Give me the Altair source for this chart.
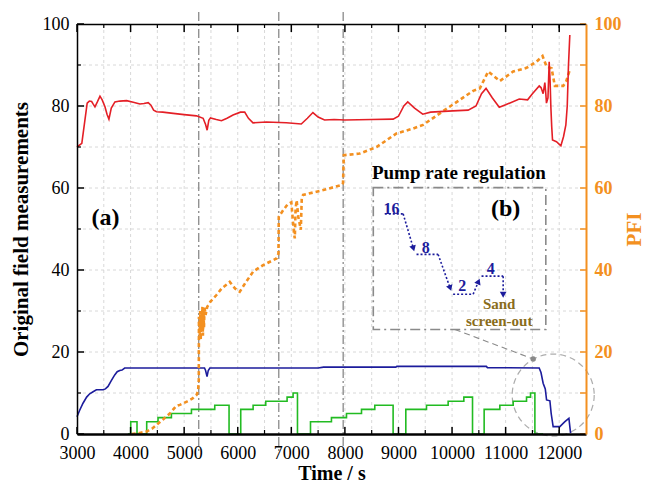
import math
import altair as alt
import pandas as pd

W, H = 509, 410
XD = [3000, 12500]
YD = [0, 100]
FONT = "Liberation Serif"
RED = "#e41f26"
BLUE = "#1c1c9c"
GREEN = "#22bb22"
ORANGE = "#f39020"
GRAY = "#8a8a8a"
OLIVE = "#8a6d1c"

# ---- data series ----
red_t = [3000, 3090, 3190, 3230, 3273, 3300, 3335, 3380, 3429, 3470, 3522, 3560, 3596, 3640, 3708, 3800,
         3925, 4050, 4174, 4250, 4329, 4380, 4430, 4484, 4600, 4795, 5000, 5230, 5354, 5400, 5429, 5460,
         5491, 5600, 5696, 5800, 5912, 6050, 6130, 6200, 6285, 6534, 6907, 7186, 7300, 7403, 7500, 7621,
         7800, 8000, 8500, 8900, 9000, 9100, 9173, 9300, 9453, 9600, 10012, 10300, 10447, 10550, 10634,
         10750, 10881, 11000, 11254, 11410, 11500, 11627, 11660, 11677, 11700, 11732, 11750, 11762, 11790,
         11813, 11830, 11844, 11860, 11875, 11949, 12031, 12080, 12124, 12150, 12172, 12198]
red_v = [70.0, 70.9, 80.7, 81.2, 81.1, 80.5, 79.8, 81.0, 82.4, 81.5, 79.8, 78.0, 76.8, 79.5, 81.0, 81.2,
         81.3, 80.9, 80.5, 80.6, 80.8, 80.2, 79.0, 78.6, 78.5, 78.2, 77.9, 77.6, 77.0, 75.5, 74.1, 76.5,
         77.1, 76.7, 76.4, 77.0, 77.8, 78.5, 78.5, 77.0, 75.9, 76.1, 75.9, 75.6, 77.0, 78.4, 77.3, 76.6,
         76.7, 76.6, 76.7, 76.8, 77.5, 80.0, 81.0, 79.5, 78.0, 78.5, 78.8, 79.0, 80.0, 83.0, 84.3,
         82.0, 79.7, 80.3, 81.7, 81.5, 83.0, 84.9, 84.5, 83.9, 83.0, 85.7, 83.0, 80.7, 82.0,
         90.8, 86.0, 79.8, 75.0, 71.7, 71.3, 70.3, 72.5, 75.4, 80.0, 89.6, 97.3]

blue_t = [3000, 3050, 3112, 3180, 3237, 3300, 3362, 3486, 3530, 3579, 3640, 3704, 3750, 3797, 3840, 3890,
          5380, 5400, 5427, 5450, 5480, 7500, 7600, 8950, 8970, 10640, 10660, 11626, 11660, 11700, 11740,
          11764, 11826, 11850, 11887, 12012, 12106, 12181, 12212]
blue_v = [4.2, 5.8, 7.5, 9.0, 9.8, 10.3, 10.8, 10.8, 11.0, 11.6, 13.0, 14.4, 15.2, 15.5, 15.6, 16.1,
          16.1, 15.5, 14.0, 15.5, 16.1, 16.1, 16.3, 16.3, 16.5, 16.5, 16.2, 16.1, 15.0, 12.4, 11.0,
          8.3, 8.1, 5.0, 1.8, 1.8, 3.0, 3.8, 0.2]

pfi_t = [4021, 4150, 4301, 4400, 4484, 4600, 4733, 4850, 4920, 5050, 5150, 5231, 5260, 5273, 5276,
         5290, 5300, 5310, 5320, 5330, 5340, 5350, 5360, 5370, 5380, 5400, 5430, 5491, 5603, 5700, 5851,
         5950, 6038, 6150, 6287, 6474, 6723, 6760, 6766, 6849, 6930, 7000, 7030, 7050, 7065, 7080, 7100,
         7130, 7160, 7177, 7195, 7220, 7531, 7936, 7965, 7980, 8278, 8590, 8963, 9273, 9460, 9772, 10145,
         10394, 10519, 10674, 10892, 11141, 11390, 11577, 11689, 11764, 11857, 11919, 12074, 12130, 12190]
pfi_v = [0.0, 0.2, 0.6, 1.3, 2.2, 3.5, 5.0, 6.8, 7.1, 7.9, 8.6, 9.5, 10.5, 13.2, 28.6,
         24.0, 30.0, 23.0, 29.0, 25.0, 31.0, 24.0, 30.0, 26.0, 31.0, 29.0, 31.0, 32.3, 33.9, 35.5, 37.1,
         35.5, 34.7, 37.0, 39.6, 41.2, 42.8, 44.0, 53.0, 54.6, 56.0, 56.5, 52.0, 49.0, 47.7, 55.0, 57.0,
         53.0, 51.0, 49.8, 57.5, 58.3, 59.3, 60.7, 61.2, 68.0, 68.4, 70.0, 73.3, 74.5, 75.4, 78.2, 81.5,
         83.7, 84.3, 88.4, 86.1, 88.4, 89.3, 90.8, 92.2, 89.6, 89.2, 84.9, 84.9, 86.0, 88.5]

green_t = [3950, 4003, 4120, 4301, 4512, 4762, 5136, 5571, 5838, 6056, 6287, 6523, 6921, 7033, 7115,
           7358, 7749, 8030, 8310, 8558, 8900, 9137, 9523, 9927, 10220, 10382, 10599, 10892, 11141,
           11390, 11465, 11546, 11700]
green_v = [0, 3, 0, 3, 4, 5, 6, 7, 0, 6, 7, 8, 9, 10, 0,
           3, 4, 5, 6, 7, 0, 6, 7, 8, 9, 0, 6, 7, 8,
           9, 10, 0, 0]

# ---- axes / reference values ----
x_labels = [3000, 4000, 5000, 6000, 7000, 8000, 9000, 10000, 11000, 12000]
x_minor = [3500, 4500, 5500, 6500, 7500, 8500, 9500, 10500, 11500, 12000]
x_grid = [3500, 4000, 4500, 5000, 5500, 6000, 6500, 7000, 7500, 8000, 8500, 9000, 9500,
          10000, 10500, 11000, 11500, 12000]
y_labels = [0, 20, 40, 60, 80, 100]
y_minor = [10, 30, 50, 70, 90]
y_grid = [10, 20, 30, 40, 50, 60, 70, 80, 90]
v_lines = [5272, 6766, 7968]

# ---- inset (b) ----
inset_box = dict(t1=8530, t2=11750, v1=25.5, v2=60.1)
seg_t1 = [8745, 9087, 9337, 9740, 10020, 10394, 10550, 10954]
seg_v1 = [53.7, 53.7, 43.8, 43.8, 34.1, 34.1, 38.5, 38.5]
seg_t2 = [9087, 9273, 9740, 9959, 10394, 10487, 10954, 10954]
seg_v2 = [53.7, 45.5, 43.8, 35.8, 34.1, 37.0, 38.5, 34.2]
arrow_seg = [1, 3, 5, 7]
rate_text = ["16", "8", "2", "4"]
rate_t = [8870, 9511, 10188, 10724]
rate_v = [54.8, 45.3, 36.1, 40.2]
sand_text = ["Sand", "screen-out"]
sand_t = [10880, 10880]
sand_v = [31.6, 27.6]
circle_t, circle_v = 11888, 9.5
dot_t, dot_v = 11514, 18.3
conn_t = [10052, 11514]
conn_v = [25.5, 18.3]

xs = alt.Scale(domain=XD, nice=False, zero=False)
ys = alt.Scale(domain=YD, nice=False, zero=False)


def X(f="t", axis=None):
    return alt.X(f"{f}:Q", scale=xs, axis=axis)


def Y(f="v", axis=None):
    return alt.Y(f"{f}:Q", scale=ys, axis=axis)


layers = []

# grid
gx = alt.Chart(pd.DataFrame({"t": x_grid})).mark_rule(color="#d4d4d4", strokeDash=[3, 3], strokeWidth=0.9).encode(
    x=X(), y=alt.value(0), y2=alt.value(H))
gy = alt.Chart(pd.DataFrame({"v": y_grid})).mark_rule(color="#d4d4d4", strokeDash=[3, 3], strokeWidth=0.9).encode(
    y=Y(), x=alt.value(0), x2=alt.value(W))
layers += [gx, gy]

# vertical dash-dot lines
vl = alt.Chart(pd.DataFrame({"t": v_lines})).mark_rule(color=GRAY, strokeDash=[9, 3, 2, 3], strokeWidth=1.3).encode(
    x=X(), y=alt.value(-12), y2=alt.value(H + 17))
layers.append(vl)

# inset box
box = alt.Chart(pd.DataFrame([inset_box])).mark_rect(fillOpacity=0, stroke=GRAY, strokeWidth=1.6,
                                                      strokeDash=[10, 4, 2, 4]).encode(
    x=X("t1"), x2="t2", y=Y("v1"), y2="v2")
layers.append(box)

conn = alt.Chart(pd.DataFrame({"t": [conn_t[0]], "t2": [conn_t[1]], "v": [conn_v[0]], "v2": [conn_v[1]]})).mark_rule(
    color=GRAY, strokeDash=[6, 4], strokeWidth=1.1).encode(x=X(), x2="t2", y=Y(), y2="v2")
circ = alt.Chart(pd.DataFrame({"t": [circle_t], "v": [circle_v]})).mark_point(
    shape="circle", filled=False, size=6724, color=GRAY, strokeDash=[6, 4], strokeWidth=1.2).encode(x=X(), y=Y())
dot = alt.Chart(pd.DataFrame({"t": [dot_t], "v": [dot_v]})).mark_point(
    shape="circle", filled=True, size=30, color=GRAY, opacity=1).encode(x=X(), y=Y())
layers += [conn, circ, dot]

# inset arrows
segs = pd.DataFrame({"t": seg_t1, "v": seg_v1, "t2": seg_t2, "v2": seg_v2})
seg_l = alt.Chart(segs).mark_rule(color=BLUE, strokeDash=[2, 2], strokeWidth=1.6).encode(
    x=X(), x2="t2", y=Y(), y2="v2")
ppt = W / (XD[1] - XD[0])
ppv = H / (YD[1] - YD[0])
heads = []
for i in arrow_seg:
    dx = (seg_t2[i] - seg_t1[i]) * ppt
    dv = (seg_v2[i] - seg_v1[i]) * ppv
    ang = math.degrees(math.atan2(dx, dv)) % 360
    heads.append({"t": seg_t2[i], "v": seg_v2[i], "a": ang})
head_l = alt.Chart(pd.DataFrame(heads)).mark_point(shape="triangle", filled=True, size=45, color=BLUE,
                                                    opacity=1).encode(
    x=X(), y=Y(), angle=alt.Angle("a:Q", scale=None))
rate_l = alt.Chart(pd.DataFrame({"t": rate_t, "v": rate_v, "s": rate_text})).mark_text(
    font=FONT, fontSize=16, fontWeight="bold", color=BLUE).encode(x=X(), y=Y(), text="s:N")
sand_l = alt.Chart(pd.DataFrame({"t": sand_t, "v": sand_v, "s": sand_text})).mark_text(
    font=FONT, fontSize=15, fontWeight="bold", color=OLIVE).encode(x=X(), y=Y(), text="s:N")
layers += [seg_l, head_l, rate_l, sand_l]

labels = pd.DataFrame({"t": [10127, 11000, 3530], "v": [63.7, 55.0, 52.7],
                       "s": ["Pump rate regulation", "(b)", "(a)"], "f": [19, 24, 24]})
lab_l = alt.Chart(labels).mark_text(font=FONT, fontWeight="bold", color="black").encode(
    x=X(), y=Y(), text="s:N", size=alt.Size("f:Q", scale=None, legend=None))
layers.append(lab_l)

# data series
green = alt.Chart(pd.DataFrame({"t": green_t, "v": green_v})).mark_line(
    color=GREEN, strokeWidth=1.6, interpolate="step-after").encode(x=X(), y=Y())
blue = alt.Chart(pd.DataFrame({"t": blue_t, "v": blue_v})).mark_line(color=BLUE, strokeWidth=1.6).encode(
    x=X(), y=Y())
pfi = alt.Chart(pd.DataFrame({"t": pfi_t, "v": pfi_v})).mark_line(
    color=ORANGE, strokeWidth=2.6, strokeDash=[4, 3]).encode(
    x=X(),
    y=Y(axis=alt.Axis(orient="right", values=y_labels, title="PFI", ticks=False, grid=False,
                      labelColor=ORANGE, labelFont=FONT, labelFontSize=18, labelFontWeight="bold",
                      labelPadding=8, domainColor=ORANGE, domainWidth=2, titleColor=ORANGE,
                      titleFont=FONT, titleFontSize=21, titleFontWeight="bold", titleAngle=270,
                      titleX=48, titleY=H / 2, titleAlign="center", titleBaseline="middle", zindex=1)))
red = alt.Chart(pd.DataFrame({"t": red_t, "v": red_v})).mark_line(color=RED, strokeWidth=1.6).encode(
    x=X(axis=alt.Axis(orient="bottom", values=x_labels, format="d", title="Time / s", ticks=False,
                      grid=False, labelFont=FONT, labelFontSize=18, labelColor="black", labelPadding=10,
                      domainColor="black", domainWidth=2.5, titleFont=FONT, titleFontSize=20,
                      titleFontWeight="bold", titleColor="black", titleX=W / 2, titleY=45,
                      titleBaseline="alphabetic", labelFlush=False, zindex=1)),
    y=Y(axis=alt.Axis(orient="left", values=y_labels, title="Original field measurements", ticks=False,
                      grid=False, labelFont=FONT, labelFontSize=18, labelColor="black", labelPadding=8,
                      domainColor="black", domainWidth=1.5, titleFont=FONT, titleFontSize=21,
                      titleFontWeight="bold", titleColor="black", titleAngle=270, titleX=-56,
                      titleY=H / 2, titleAlign="center", titleBaseline="middle", labelFlush=False,
                      zindex=1)))
layers += [green, blue, pfi, red]

# ticks (inward)
def xticks(vals, y0, y1, width):
    return alt.Chart(pd.DataFrame({"t": vals})).mark_rule(color="black", strokeWidth=width).encode(
        x=X(), y=alt.value(y0), y2=alt.value(y1))


def yticks(vals, x0, x1, color, width):
    return alt.Chart(pd.DataFrame({"v": vals})).mark_rule(color=color, strokeWidth=width).encode(
        y=Y(), x=alt.value(x0), x2=alt.value(x1))


top = alt.Chart(pd.DataFrame({"t": x_labels})).mark_rule(color="black", strokeWidth=1.5).encode(
    x=X(axis=alt.Axis(orient="top", labels=False, ticks=False, grid=False, title=None,
                      domainColor="black", domainWidth=1.5, zindex=1)),
    y=alt.value(0), y2=alt.value(8))
layers += [
    top,
    xticks(x_minor, 0, 4, 1.2),
    xticks(x_labels, H, H - 7, 1.5),
    xticks(x_minor, H, H - 4, 1.2),
    yticks(y_labels, 0, 7, "black", 1.5),
    yticks(y_minor, 0, 4, "black", 1.2),
    yticks(y_labels, W, W - 6, ORANGE, 1.5),
    yticks(y_minor, W, W - 6, ORANGE, 1.5),
]

chart = alt.layer(*layers).properties(
    width=W, height=H,
    autosize=alt.AutoSizeParams(type="none"),
    padding={"left": 69, "top": 16, "right": 60, "bottom": 50},
).configure_view(stroke=None)

chart.save("out.html", embed_options={"renderer": "svg", "actions": False})
